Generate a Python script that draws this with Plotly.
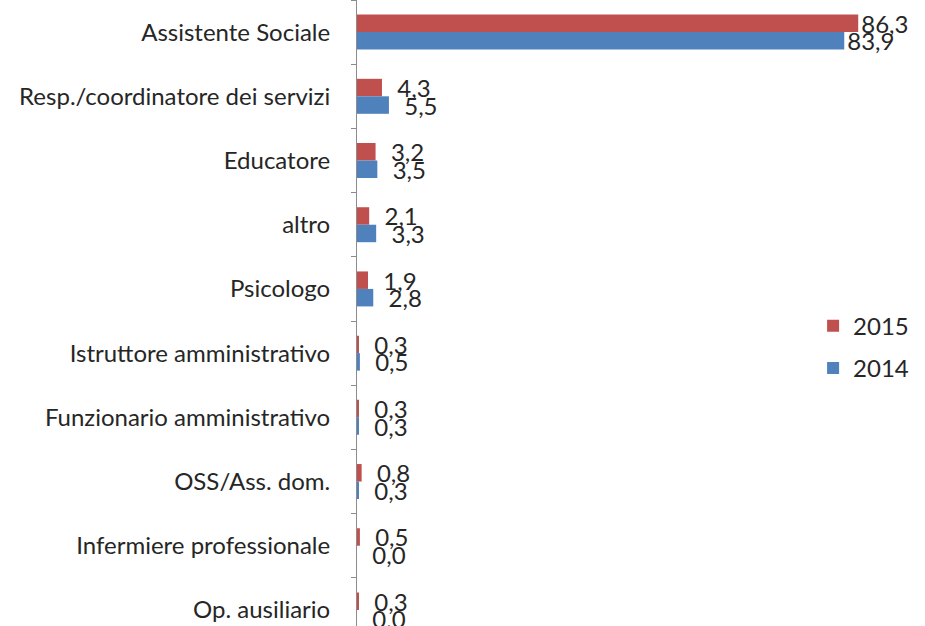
import plotly.graph_objects as go

# Job roles (top to bottom) and percentages per year
categories = [
    "Assistente Sociale",
    "Resp./coordinatore dei servizi",
    "Educatore",
    "altro",
    "Psicologo",
    "Istruttore amministrativo",
    "Funzionario amministrativo",
    "OSS/Ass. dom.",
    "Infermiere professionale",
    "Op. ausiliario",
]
values_2015 = [86.3, 4.3, 3.2, 2.1, 1.9, 0.3, 0.3, 0.8, 0.5, 0.3]
values_2014 = [83.9, 5.5, 3.5, 3.3, 2.8, 0.5, 0.3, 0.3, 0.0, 0.0]

RED = "#C0504D"
BLUE = "#4F81BD"
FONT = "Lato"
NBSP = "\u00a0"


def fmt(v):
    # comma decimal; short bars get a little extra gap before the label
    s = f"{v:.1f}".replace(".", ",")
    return s if v > 50 else NBSP * 2 + s


fig = go.Figure()
for name, vals, color in [("2015", values_2015, RED), ("2014", values_2014, BLUE)]:
    fig.add_trace(go.Bar(
        name=name,
        y=categories,
        x=vals,
        orientation="h",
        marker=dict(color=color, line=dict(width=0)),
        text=[fmt(v) for v in vals],
        textposition="outside",
        constraintext="none",
        cliponaxis=False,
        textfont=dict(family=FONT, size=24, color="#262626"),
        legendgroup=name,
    ))

fig.update_layout(
    width=925,
    height=626,
    margin=dict(l=357, r=0, t=0, b=0),
    paper_bgcolor="white",
    plot_bgcolor="white",
    barmode="group",
    bargap=0.455,
    bargroupgap=0,
    font=dict(family=FONT, size=24, color="#262626"),
    showlegend=True,
    legend=dict(
        x=0.803, y=0.515, xanchor="left", yanchor="top",
        font=dict(family=FONT, size=24, color="#262626"),
        tracegroupgap=8,
        itemwidth=30,
        bgcolor="rgba(0,0,0,0)",
    ),
    xaxis=dict(
        range=[0, 97.8],
        visible=False,
        showgrid=False,
        zeroline=False,
    ),
    yaxis=dict(
        type="category",
        range=[9.25, -0.5],
        showline=True,
        linecolor="#8c8c8c",
        linewidth=1,
        ticks="outside",
        tickson="boundaries",
        ticklen=5,
        tickcolor="#8c8c8c",
        showgrid=False,
        ticklabelstandoff=21,
        tickfont=dict(family=FONT, size=24, color="#262626"),
    ),
)

fig.write_html("out.html")
